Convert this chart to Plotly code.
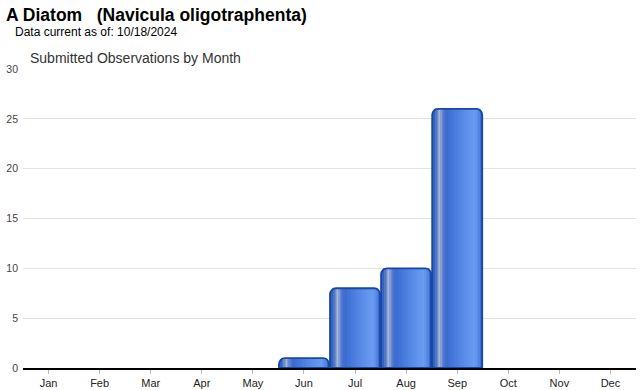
import plotly.graph_objects as go

months = ["Jan", "Feb", "Mar", "Apr", "May", "Jun", "Jul", "Aug", "Sep", "Oct", "Nov", "Dec"]
observations = [0, 0, 0, 0, 0, 1, 8, 10, 26, 0, 0, 0]
y_ticks = [0, 5, 10, 15, 20, 25, 30]

title_text = "A Diatom   (Navicula oligotraphenta)"
subtitle_text = "Data current as of: 10/18/2024"
chart_title = "Submitted Observations by Month"

# --- styling helpers (gradient of the bar face) ---
W, H = 640, 390
L, R, T, B = 23, 4, 69, 22
PW, PH = W - L - R, H - T - B
BAR_W = 0.98

stops = [
    (0.00, "#2150b0"), (0.06, "#3060c0"), (0.11, "#6a88c8"), (0.16, "#a8b8d6"),
    (0.22, "#5a80d0"), (0.30, "#3a6ad2"), (0.60, "#5488e4"), (0.86, "#6a9cf2"),
    (0.93, "#5a8ae8"), (1.00, "#2150b0"),
]


def hex2rgb(h):
    h = h.lstrip("#")
    return [int(h[i:i + 2], 16) for i in (0, 2, 4)]


def color_at(f):
    for (f0, c0), (f1, c1) in zip(stops[:-1], stops[1:]):
        if f0 <= f <= f1:
            t = 0 if f1 == f0 else (f - f0) / (f1 - f0)
            a, b = hex2rgb(c0), hex2rgb(c1)
            return "rgb(%d,%d,%d)" % tuple(round(a[i] + (b[i] - a[i]) * t) for i in range(3))
    return stops[-1][1]


def px_x(px):
    return (px - L) / PW


def px_y(py):
    return (H - B - py) / PH


vals = [v if v > 0 else None for v in observations]

fig = go.Figure()
# base bar with rounded top
fig.add_trace(go.Bar(x=months, y=vals, width=BAR_W, marker=dict(color="#3464c6", line=dict(width=0), cornerradius=6),
                     hoverinfo="skip", showlegend=False))
# gradient slices (interior, avoiding corners)
N = 40
ws = BAR_W / N
for i in range(2, N - 2):
    f = (i + 0.5) / N
    fig.add_trace(go.Bar(x=months, y=vals, width=ws * 1.5, offset=-BAR_W / 2 + i * ws,
                         marker=dict(color=color_at(f), line=dict(width=0)),
                         hoverinfo="skip", showlegend=False))
# outline
fig.add_trace(go.Bar(x=months, y=vals, width=BAR_W,
                     marker=dict(color="rgba(0,0,0,0)", line=dict(color="#1848a4", width=1.8), cornerradius=6),
                     hovertemplate="%{x}: %{y}<extra></extra>", showlegend=False))

fig.update_layout(
    width=W, height=H,
    margin=dict(l=L, r=R, t=T, b=B, autoexpand=False),
    barmode="overlay",
    plot_bgcolor="white", paper_bgcolor="white",
    font=dict(family="Arial, Liberation Sans, sans-serif", size=11, color="#222"),
    xaxis=dict(type="category", categoryorder="array", categoryarray=months, automargin=False,
               showline=True, linecolor="#000", linewidth=1.5,
               ticks="outside", ticklen=4, tickcolor="#bbb", tickwidth=1,
               tickfont=dict(size=11, color="#222"), showgrid=False, fixedrange=True),
    yaxis=dict(range=[0, 30], tickvals=y_ticks, showgrid=True, gridcolor="#e2e2e2", gridwidth=1,
               automargin=False,
               zeroline=False, tickfont=dict(size=10.5, color="#444"), ticks="", ticklabelstandoff=4,
               fixedrange=True),
    annotations=[
        dict(text="<b>" + title_text + "</b>", xref="paper", yref="paper", x=px_x(4), y=px_y(15),
             xanchor="left", yanchor="middle", showarrow=False,
             font=dict(size=17.5, color="#000")),
        dict(text=subtitle_text, xref="paper", yref="paper", x=px_x(13), y=px_y(32.5),
             xanchor="left", yanchor="middle", showarrow=False, font=dict(size=12, color="#000")),
        dict(text=chart_title, xref="paper", yref="paper", x=px_x(28), y=px_y(58.5),
             xanchor="left", yanchor="middle", showarrow=False, font=dict(size=14, color="#333")),
    ],
)

fig.write_html("out.html", config={"displayModeBar": False},
               post_script="document.body.style.margin='0';document.body.style.overflow='hidden';")
